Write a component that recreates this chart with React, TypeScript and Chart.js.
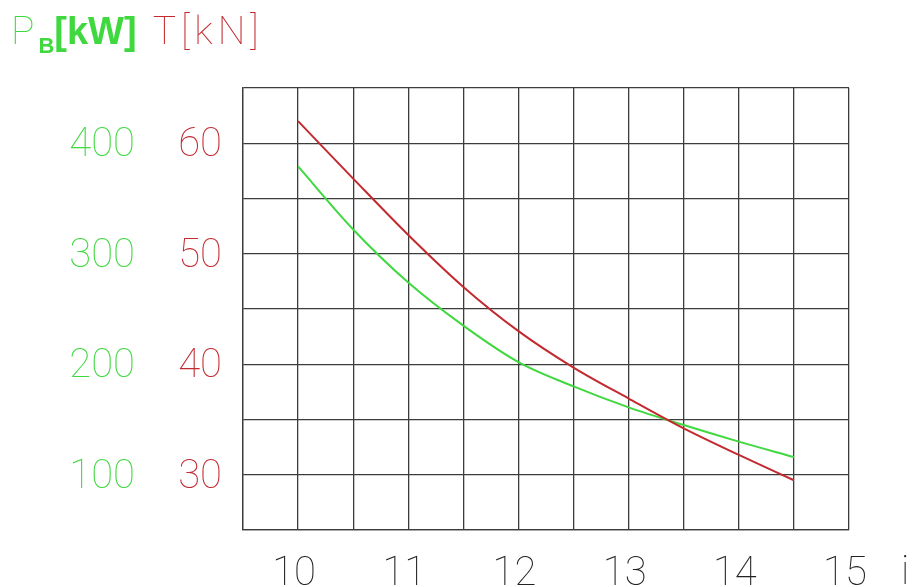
import React, { useEffect, useRef } from "react";
import { Chart, registerables } from "chart.js";

Chart.register(...registerables);

const speedI = [10, 10.5, 11, 11.5, 12, 12.5, 13, 13.5, 14, 14.5];
const thrustT = [62.0, 56.8, 51.7, 47.0, 43.0, 39.7, 36.9, 34.2, 31.8, 29.5];
const powerP = [379, 322, 274, 235, 202, 180, 161, 145, 130, 116];
const xTickLabels = [10, 11, 12, 13, 14, 15];
const tTickLabels = [30, 40, 50, 60];
const pTickLabels = [100, 200, 300, 400];

const GREEN = "#3fd83f";
const RED = "#c22a30";
const GRID = "#3c3c3c";
const TICK_FONT = { family: "Roboto", size: 40, weight: 100 as any };

export default function App() {
  const ref = useRef<HTMLCanvasElement | null>(null);

  useEffect(() => {
    if (!ref.current) return;
    const chart = new Chart(ref.current, {
      type: "line",
      data: {
        datasets: [
          {
            label: "T",
            data: speedI.map((x, i) => ({ x, y: thrustT[i] })),
            borderColor: RED,
            borderWidth: 2,
            pointRadius: 0,
            cubicInterpolationMode: "monotone",
            yAxisID: "yT",
          },
          {
            label: "P",
            data: speedI.map((x, i) => ({ x, y: powerP[i] })),
            borderColor: GREEN,
            borderWidth: 2,
            pointRadius: 0,
            cubicInterpolationMode: "monotone",
            yAxisID: "yP",
          },
        ],
      },
      options: {
        animation: false,
        responsive: false,
        maintainAspectRatio: false,
        layout: { padding: { top: 88, right: 65, left: 0, bottom: 0 } },
        plugins: { legend: { display: false }, tooltip: { enabled: false } },
        scales: {
          x: {
            type: "linear",
            min: 9.5,
            max: 15,
            afterFit: (a: any) => {
              a.height = 57;
            },
            afterBuildTicks: (a: any) => {
              const t = [];
              for (let v = 9.5; v <= 15.001; v += 0.5) t.push({ value: v });
              a.ticks = t;
            },
            ticks: {
              autoSkip: false,
              maxRotation: 0,
              padding: 21,
              labelOffset: -4,
              color: "#222",
              font: TICK_FONT,
              callback: (v: any) =>
                xTickLabels.includes(Number(v)) ? String(v) : "",
            },
            grid: { color: GRID, lineWidth: 1.3, drawTicks: false },
            border: { color: GRID, width: 1.3 },
          },
          yT: {
            type: "linear",
            position: "left",
            weight: 0,
            min: 25,
            max: 65,
            afterFit: (a: any) => {
              a.width = 103;
            },
            afterBuildTicks: (a: any) => {
              const t = [];
              for (let v = 25; v <= 65; v += 5) t.push({ value: v });
              a.ticks = t;
            },
            ticks: {
              autoSkip: false,
              padding: 21,
              labelOffset: 3,
              color: RED,
              font: TICK_FONT,
              callback: (v: any) =>
                tTickLabels.includes(Number(v)) ? String(v) : "",
            },
            grid: { color: GRID, lineWidth: 1.3, drawTicks: false },
            border: { color: GRID, width: 1.3 },
          },
          yP: {
            type: "linear",
            position: "left",
            weight: 1,
            min: 50,
            max: 450,
            afterFit: (a: any) => {
              a.width = 140;
            },
            afterBuildTicks: (a: any) => {
              a.ticks = pTickLabels.map((v) => ({ value: v }));
            },
            ticks: {
              autoSkip: false,
              padding: 5,
              labelOffset: 3,
              color: GREEN,
              font: TICK_FONT,
            },
            grid: { display: false, drawTicks: false },
            border: { display: false },
          },
        },
      },
    });
    return () => chart.destroy();
  }, []);

  return (
    <div
      style={{
        position: "fixed",
        left: 0,
        top: 0,
        width: 914,
        height: 587,
        background: "#fff",
        overflow: "hidden",
      }}
    >
      <canvas ref={ref} width={914} height={587} style={{ display: "block" }} />
      <div
        style={{
          position: "absolute",
          left: 11,
          top: 9,
          fontFamily: "Roboto",
          fontSize: 39,
          whiteSpace: "nowrap",
          lineHeight: "44px",
        }}
      >
        <span style={{ color: GREEN, fontWeight: 100 }}>P</span>
        <span
          style={{
            color: GREEN,
            fontWeight: 700,
            fontSize: 22,
            fontFamily: "Liberation Sans",
            verticalAlign: "-9px",
            marginLeft: 4,
          }}
        >
          B
        </span>
        <span
          style={{
            color: GREEN,
            fontWeight: 700,
            fontFamily: "Liberation Sans",
            fontSize: 38,
          }}
        >
          [kW]
        </span>
        <span
          style={{
            color: RED,
            fontWeight: 100,
            marginLeft: 16,
            letterSpacing: 5,
          }}
        >
          T[kN]
        </span>
      </div>
      <div
        style={{
          position: "absolute",
          left: 901,
          top: 547,
          fontFamily: "Roboto",
          fontWeight: 100,
          fontSize: 40,
          color: "#222",
        }}
      >
        i
      </div>
    </div>
  );
}
